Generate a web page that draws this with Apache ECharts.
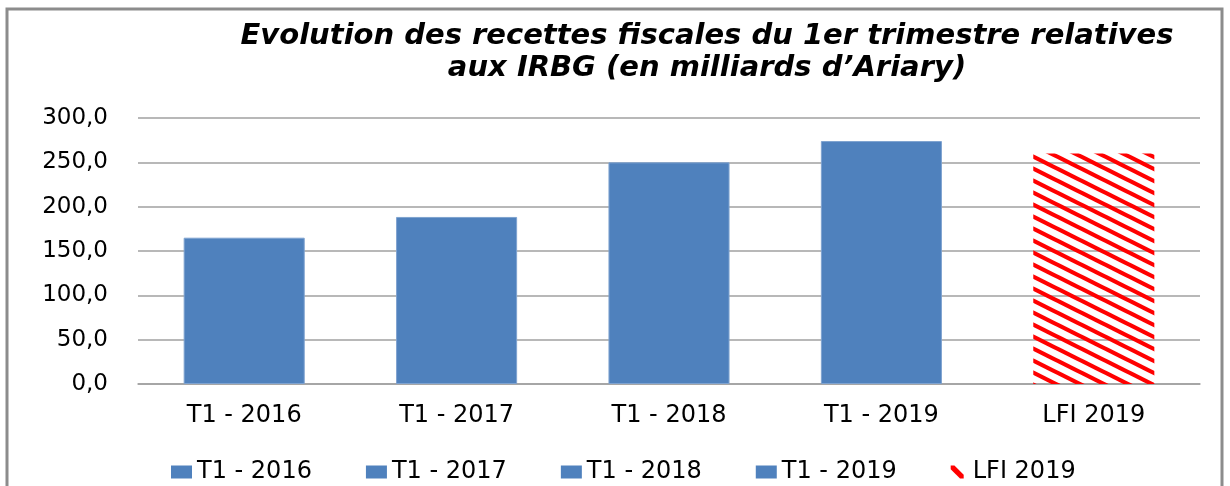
<!DOCTYPE html>
<html>
<head>
<meta charset="utf-8">
<script src="https://cdn.jsdelivr.net/npm/echarts@6/dist/echarts.min.js"></script>
<style>
  html, body { margin: 0; padding: 0; background: #fff; }
  #chart { width: 1230px; height: 486px; }
</style>
</head>
<body>
<div id="chart"></div>
<script>
var categories = ['T1 - 2016', 'T1 - 2017', 'T1 - 2018', 'T1 - 2019', 'LFI 2019'];
var values = [165.0, 188.4, 250.0, 274.0, 260.0];
var yTicks = [0, 50, 100, 150, 200, 250, 300];

// hachures rouges pour la LFI
function hatch() {
	var c = document.createElement('canvas');
	c.width = 24;
	c.height = 12;
	var ctx = c.getContext('2d');
	ctx.strokeStyle = '#ff0000';
	ctx.lineWidth = 4.2;
	for (var k = -1; k <= 1; k++) {
		ctx.beginPath();
		ctx.moveTo(-24, -12 + k * 12);
		ctx.lineTo(48, 24 + k * 12);
		ctx.stroke();
	}
	return c;
}

var chart = echarts.init(document.getElementById('chart'));
var series = categories.map(function (name, i) {
	var data = categories.map(function (c, j) { return j === i ? values[j] : '-'; });
	var isLfi = i === categories.length - 1;
	return {
		name: name,
		type: 'bar',
		barWidth: '57%',
		barGap: '-100%',
		data: data,
		itemStyle: isLfi ? {
			color: { image: hatch(), repeat: 'repeat' }
		} : {
			color: '#4f81bd',
			borderColor: '#7fa3d0',
			borderWidth: 1
		}
	};
});

var option = {
	animation: false,
	title: {
		text: 'Evolution des recettes fiscales du 1er trimestre relatives\naux IRBG (en milliards d\u2019Ariary)',
		left: 702,
		textAlign: 'center',
		top: 15,
		textStyle: {
			fontFamily: 'DejaVu Sans',
			fontStyle: 'italic',
			fontWeight: 'bold',
			fontSize: 29,
			lineHeight: 32,
			color: '#000'
		}
	},
	legend: {
		bottom: 0,
		left: 171,
		padding: [0, 0, 2, 0],
		itemGap: 54,
		itemWidth: 21,
		itemHeight: 13,
		itemStyle: { borderWidth: 0 },
		textStyle: { fontFamily: 'DejaVu Sans', fontSize: 24, color: '#000' },
		data: categories.map(function (c, i) {
			if (i === categories.length - 1) {
				return {
					name: c,
					icon: 'path://M0,0 L4,0 L14,10 L14,14 L10,14 L0,4 Z',
					itemStyle: { color: '#ff0000', borderWidth: 0 }
				};
			}
			return { name: c, icon: 'rect' };
		})
	},
	grid: { left: 138, right: 30, top: 118, bottom: 102 },
	xAxis: {
		type: 'category',
		data: categories,
		axisLine: { lineStyle: { color: '#a0a0a0', width: 1.5 } },
		axisTick: { show: false },
		axisLabel: { fontFamily: 'DejaVu Sans', fontSize: 24, color: '#000', margin: 20 }
	},
	yAxis: {
		type: 'value',
		min: yTicks[0],
		max: yTicks[yTicks.length - 1],
		interval: 50,
		axisLine: { show: false },
		axisTick: { show: false },
		axisLabel: {
			fontFamily: 'DejaVu Sans',
			fontSize: 23,
			color: '#000',
			margin: 30,
			formatter: function (v) { return v.toFixed(1).replace('.', ','); }
		},
		splitLine: { lineStyle: { color: '#a0a0a0', width: 1.5 } }
	},
	graphic: [{
		type: 'rect',
		shape: { x: 7, y: 9, width: 1215, height: 490 },
		style: { fill: 'none', stroke: '#8c8c8c', lineWidth: 3 },
		silent: true
	}],
	series: series
};
chart.setOption(option);
window.addEventListener('resize', function () {
	chart.resize();
});
</script>
</body>
</html>
